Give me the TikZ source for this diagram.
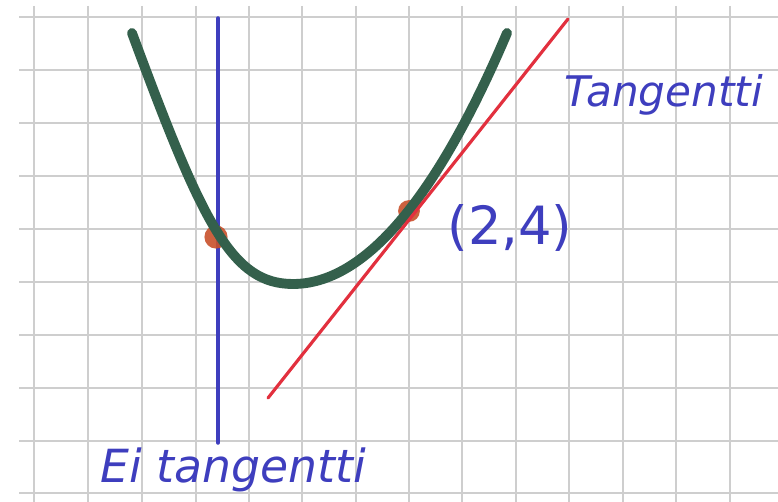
\documentclass[tikz,border=0pt]{standalone}
\usepackage{fontspec}
\setmainfont{DejaVu Sans}
\usepackage{tikz}
\usetikzlibrary{calc}

\definecolor{gridgray}{RGB}{206,206,206}
\definecolor{penblue}{RGB}{62,62,190}
\definecolor{pengreen}{RGB}{52,96,76}
\definecolor{penred}{RGB}{226,48,62}
\definecolor{dotred}{RGB}{200,80,42}

\begin{document}
\begin{tikzpicture}[x=0.02cm, y=-0.02cm, thick, line cap=round]
    \useasboundingbox (0,0) rectangle (778,502);

    % 方格纸
    \foreach \x in {34,88,142,196,249,302,356,409,462,516,569,623,676,730} {
        \draw[gridgray, line width=0.9pt, line cap=butt] (\x,6) -- (\x,502);
    }
    \foreach \y in {17,70,123,176,229,282,335,388,441,493} {
        \draw[gridgray, line width=0.9pt, line cap=butt] (19,\y) -- (778,\y);
    }

    % 两个点
    \coordinate (A) at (216,237);
    \coordinate (P) at (409,211);

    % 竖直线 (不是切线)
    \draw[penblue, line width=2pt] (218,18) coordinate (B1) -- (218,443) coordinate (B2);

    % 交点
    \fill[dotred, opacity=0.9] (A) circle (6.6pt);
    \fill[dotred, opacity=0.9] (P) circle (6.2pt);

    % 抛物线
    \coordinate (L) at (132,33);
    \coordinate (V) at (293,284);
    \coordinate (R) at (507,33);
    \draw[pengreen, line width=5.6pt]
        (L) .. controls (203,225) and (232,284) .. (V)
            .. controls (364,284) and (436,200) .. (R);

    % 切线
    \draw[penred, line width=1.8pt] (268,398) coordinate (T1) -- (568,19) coordinate (T2);

    % 文字
    \node[penblue, font=\itshape\fontsize{24}{28}\selectfont] (tangentti) at (664,95) {Tangentti};
    \node[penblue, font=\itshape\fontsize{26}{30}\selectfont] (eitangentti) at (233,470) {Ei tangentti};
    \node[penblue, font=\fontsize{30}{34}\selectfont] (piste) at (510,228) {(2,4)};
\end{tikzpicture}
\end{document}
